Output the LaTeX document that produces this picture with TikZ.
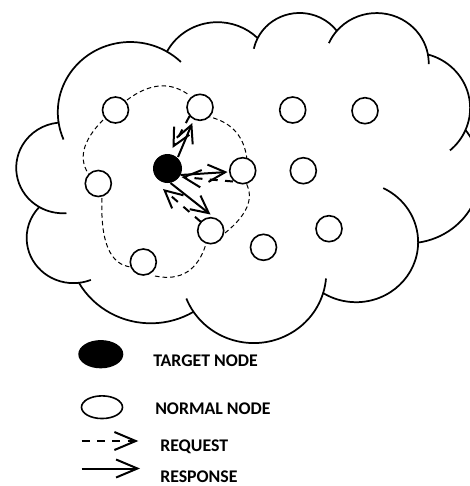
\documentclass[tikz,border=0pt]{standalone}
\usepackage{fontspec}
\setmainfont{Carlito}
\usetikzlibrary{arrows.meta,shapes.geometric}

% arcTo in the OOXML manner: angles are visual angles on the ellipse,
% turned into parametric angles for TikZ's arc
\newcommand\visualtoparam[4]{% #1 result macro, #2 x radius, #3 y radius, #4 visual angle
  \pgfmathsetmacro\vtpraw{atan2((#2)*sin(#4),(#3)*cos(#4))}%
  \pgfmathsetmacro\vtpresult{\vtpraw+360*round(((#4)-\vtpraw)/360)}%
  \xdef#1{\vtpresult}%
}
\newcommand\lobe[4]{% x radius, y radius, start angle, sweep (visual degrees)
  \pgfextra{%
    \visualtoparam\lobestart{#1}{#2}{#3}%
    \pgfmathsetmacro\lobeendvis{(#3)+(#4)}%
    \visualtoparam\lobeend{#1}{#2}{\lobeendvis}%
  }%
  arc[start angle=\lobestart, end angle=\lobeend, x radius=#1, y radius=#2]%
}

\begin{document}
\begin{tikzpicture}[x=0.75pt, y=-0.75pt,
  cloudline/.style={line width=1.3pt, line join=round},
  region/.style={line width=0.75pt, dash pattern=on 3.4pt off 2.3pt},
  plain/.style={circle, draw, line width=1.2pt, fill=white, minimum size=19.5pt, inner sep=0pt},
  target/.style={circle, fill=black, minimum size=21.75pt, inner sep=0pt},
  resp/.style={line width=1.5pt, -{Straight Barb[length=13pt, width=13pt]}},
  req/.style={resp, dash pattern=on 6pt off 5.5pt},
  keytip/.style={-{Straight Barb[length=16pt, width=13.5pt]}},
  lbl/.style={font=\fontsize{13.35pt}{16pt}\selectfont\bfseries, inner sep=0pt, anchor=base west}
]
\useasboundingbox (0,0) rectangle (470,486);

% ---- cloud outline (eleven lobes) ----
\begin{scope}[shift={(16.6,11.9)}, x=0.805125pt, y=-0.57285pt]
  \draw[cloudline] (39.00,143.70) coordinate (jKA)
    \lobe{67.53}{91.90}{-190.4875}{123.7805} coordinate (jAB)
    \lobe{53.33}{72.67}{-144.1024}{89.9452} coordinate (jBC)
    \lobe{43.65}{59.45}{-145.8079}{99.7230} coordinate (jCD)
    \lobe{48.57}{65.95}{-130.9861}{117.2417} coordinate (jDE)
    \lobe{53.33}{72.73}{-78.7089}{109.0269} coordinate (jEF)
    \lobe{67.75}{92.20}{-46.2673}{130.2690} coordinate (jFG)
    \lobe{57.85}{78.67}{0.6250}{114.0333} coordinate (jGH)
    \lobe{67.52}{92.15}{22.4516}{115.1726} coordinate (jHI)
    \lobe{77.20}{105.43}{66.2426}{75.7110} coordinate (jIJ)
    \lobe{43.60}{59.18}{-274.9421}{146.7356} coordinate (jJK)
    \lobe{43.45}{59.45}{-246.8285}{152.5189} -- cycle;
  % short inner strokes where the lobes meet
  \draw[cloudline] (jKA) \lobe{67.53}{91.90}{-190.4875}{-19.4261};
  \draw[cloudline] (jAB) \lobe{67.53}{91.90}{-66.7070}{12.3194};
  \draw[cloudline] (jBC) \lobe{43.65}{59.45}{-145.8079}{-17.6864};
  \draw[cloudline] (jCD) \lobe{48.57}{65.95}{-130.9861}{-18.1954};
  \draw[cloudline] (jDE) \lobe{48.57}{65.95}{-13.7444}{14.8589};
  \draw[cloudline] (jEF) \lobe{53.33}{72.73}{30.3180}{27.7515};
  \draw[cloudline] (jFG) \lobe{57.85}{78.67}{0.6250}{-70.9174};
  \draw[cloudline] (jGH) \lobe{67.52}{92.15}{22.4516}{-15.9984};
  \draw[cloudline] (jHI) \lobe{67.52}{92.15}{137.6242}{14.0811};
  \draw[cloudline] (jIJ) \lobe{43.60}{59.18}{-274.9421}{-11.4475};
  \draw[cloudline] (jJK) \lobe{43.45}{59.45}{-246.8285}{-26.4295};
\end{scope}

% ---- dashed neighbourhood of the target ----
\draw[region] (127,100) .. controls (149.7,83) and (170.3,81.3) .. (189,95);
\draw[region] (247,160) .. controls (244.7,137) and (232.3,122.7) .. (210,117);
\draw[region] (225,233) .. controls (247.3,215) and (254.3,198.3) .. (246,183);
\draw[region] (155,276) .. controls (180.7,281.3) and (197.7,270.7) .. (206,244);
\draw[region] (102,198) .. controls (100.3,241.7) and (110,264.7) .. (131,267);
\draw[region] (103,120) .. controls (82,141.3) and (77.7,160) .. (90,176);

% ---- nodes ----
\node[plain] (n1)  at (115.5,110) {};
\node[plain] (n2)  at (200,107.3) {};
\node[plain] (n3)  at (242.7,170.7) {};
\node[plain] (n4)  at (98.3,183.5) {};
\node[plain] (n5)  at (210.7,230.7) {};
\node[plain] (n6)  at (143.3,262) {};
\node[plain] (n7)  at (263.5,247.3) {};
\node[plain] (n8)  at (292.7,110) {};
\node[plain] (n9)  at (365,110.7) {};
\node[plain] (n10) at (303.3,170.7) {};
\node[plain] (n11) at (329,228.7) {};
\node[target] (tgt) at (167.5,168.5) {};

% ---- requests and responses ----
\draw[resp] ([shift={(10.5,-11.5)}]tgt.center) -- ([shift={(-7.7,15.7)}]n2.center);
\draw[req]  ([shift={(-10.4,8.7)}]n2.center) -- ([shift={(5,-20.5)}]tgt.center);
\draw[resp] ([shift={(13,6.5)}]tgt.center) -- ([shift={(-15.2,1.3)}]n3.center);
\draw[req]  ([shift={(-9.7,10.8)}]n3.center) -- ([shift={(14,8.5)}]tgt.center);
\draw[resp] ([shift={(3,14.5)}]tgt.center) -- ([shift={(-0.2,-16.2)}]n5.center);
\draw[req]  ([shift={(-9.7,-8.7)}]n5.center) -- ([shift={(-4.5,20.5)}]tgt.center);

% ---- key ----
\node[ellipse, fill=black, minimum width=33.75pt, minimum height=21.2pt, inner sep=0pt] (keytgt) at (100.8,354.2) {};
\node[ellipse, draw, line width=1.2pt, minimum width=30.75pt, minimum height=17pt, inner sep=0pt] (keyplain) at (102,407.2) {};
\node[lbl] (keytgtlbl) at (153,366.5) {TARGET NODE};
\node[lbl] (keyplainlbl) at (155,414) {NORMAL NODE};
\node[lbl] (keyreqlbl) at (160,451.5) {REQUEST};
\node[lbl] (keyresplbl) at (160,482.5) {RESPONSE};
\coordinate (reqA) at (81.7,441);
\coordinate (reqB) at (138.3,441);
\coordinate (respA) at (81.7,468.5);
\coordinate (respB) at (140,468.5);
\draw[req, keytip] (reqA) -- (reqB);
\draw[resp, keytip] (respA) -- (respB);
\end{tikzpicture}
\end{document}
